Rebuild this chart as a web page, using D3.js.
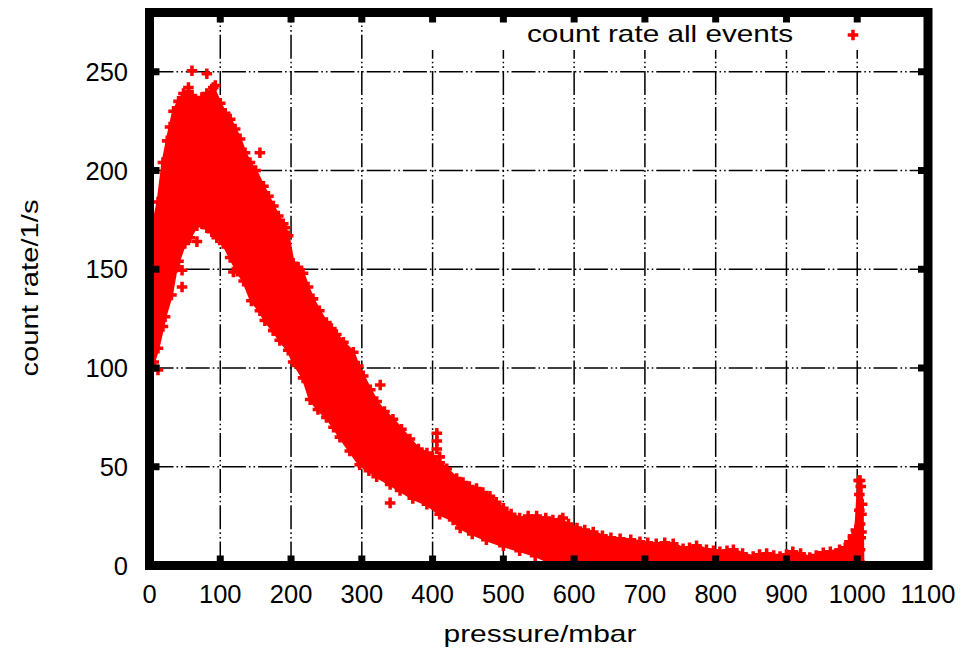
<!DOCTYPE html>
<html><head><meta charset="utf-8">
<script src="https://cdn.jsdelivr.net/npm/d3@7/dist/d3.min.js"></script>
<style>
body{margin:0;background:#fff;}
text{font-family:"Liberation Sans",Arial,Helvetica,sans-serif;fill:#000;}
</style>
</head><body>
<svg id="chart" width="980" height="652"></svg>
<script>
// ---------- data ----------
const xTicks = [0,100,200,300,400,500,600,700,800,900,1000,1100];
const yTicks = [0,50,100,150,200,250];
const seriesName = "count rate all events";
const xTitle = "pressure/mbar";
const yTitle = "count rate/1/s";

// upper edge of the dense cloud of points (pressure / mbar, count rate / 1/s)
const upperPressure = [2,5,12,19,25,29,34,41,48,55,60,67,74,81,90,100,107,114,121,128,135,142,150,161,168,175,182,189,196,203,210,217,224,231,240,250,257,264,274,288,295,302,312,321,332,344,356,368,380,392,400,410,420,434,443,452,462,471,481,490,500,511,523,535,547,560,570,580,592,604,615,627,640,652,665,680,693,704,716,728,740,754,763,773,787,797,806,816,825,838,853,862,872,882,891,900,909,920,933,942,952,962,975,983,989,994,998,1002,1004,1005,1007,1008];
const upperRate = [170,172,184,204,215,222,230,235,239,240,238,235,237,239,242,234,229,226,221,216,209,204,200,192,187,182,177,173,167,153,151,148,141,135,129,123,120,117,113,108,101,96,89,83,78,74,69,64,59,57,55,52,49,44,42,40,39,37,35,32,29,26,24,25,25,24,23,23,21,19,18,17,15,14,13.5,13,12,11.5,11,11.5,11,8.5,9,10,8,7.5,7,7.5,8,6,4.5,5.5,6,5,4.5,5.5,7,6,4,5,6.5,7,8,9,12,15,18,43,43,40,31,0];
// lower edge of the cloud
const lowerPressure = [2,6,12,19,22,31,38,41,50,57,67,74,81,88,95,104,114,124,133,144,156,163,175,184,196,203,217,227,238,250,260,269,283,297,310,321,340,354,372,392,410,429,439,456,476,500,523,545,570,620,700,800,900,1000,1008];
const lowerRate = [102,103,110,121,126,137,151,154,163,166,172,173,171,169,166,163,156,149,144,134,129,124,119,114,109,103,95,84,79,75,70,65,58,51,48,45,41,38,34,31,26,23,19,16,13,10,7.5,5,1,0,0,0,0,0,0];
// isolated points standing out of the cloud, and points filling the spike near 1000 mbar
const outPressure = [12,46,46,60,81,67,118.5,156,191.5,175,326,340,406,406,406,410,584,55,93,1003,1003,1004,1005,1004,1006,1006];
const outRate =     [99,149.5,141,250.5,249,164,148.6,209,171,119,91.4,31.7,67,63,59,55,24,242,243,36,28,21,14,8,26,17];

// ---------- drawing ----------
const svg = d3.select("#chart");
const x = d3.scaleLinear().domain([0,1100]).range([149.5,928]);
const y = d3.scaleLinear().domain([0,280]).range([565.5,12.5]);
const red = "#ff0000";
const cross = d3.symbol().type(d3.symbolCross).size(62);

svg.append("defs").append("clipPath").attr("id","plot")
  .append("rect").attr("x",x(0)).attr("y",y(280)).attr("width",x(1100)-x(0)).attr("height",y(0)-y(280));

// grid
const dash = "24,3,1.6,3,1.6,3";
const grid = svg.append("g").attr("stroke","#000").attr("stroke-width",1.5).attr("stroke-dasharray",dash);
grid.selectAll(".gx").data(xTicks.filter(d=>d>0&&d<1100)).join("line")
  .attr("x1",d=>x(d)).attr("x2",d=>x(d)).attr("y1",y(0)).attr("y2",y(280));
grid.selectAll(".gy").data(yTicks.filter(d=>d>0)).join("line")
  .attr("y1",d=>y(d)).attr("y2",d=>y(d)).attr("x1",x(0)).attr("x2",x(1100));

// key area is cleared of grid lines
svg.append("rect").attr("x",405).attr("y",y(280)).attr("width",x(1100)-405).attr("height",50-y(280)).attr("fill","#fff");

// data
const dataG = svg.append("g").attr("clip-path","url(#plot)");
const upperPts = upperPressure.map((p,i)=>[p,upperRate[i]]);
const lowerPts = lowerPressure.map((p,i)=>[p,lowerRate[i]]);
const outline = upperPts.concat(lowerPts.slice().reverse());
dataG.append("path")
  .attr("d", d3.line().x(d=>x(d[0])).y(d=>y(d[1]))(outline) + "Z")
  .attr("fill",red).attr("stroke",red).attr("stroke-width",3);
const allPts = upperPts.concat(lowerPts, outPressure.map((p,i)=>[p,outRate[i]]));
dataG.selectAll(".pt").data(allPts).join("path")
  .attr("d",cross)
  .attr("transform",d=>`translate(${x(d[0])},${y(d[1])})`)
  .attr("fill",red);

// border
svg.append("rect").attr("x",x(0)).attr("y",y(280)).attr("width",x(1100)-x(0)).attr("height",y(0)-y(280))
  .attr("fill","none").attr("stroke","#000").attr("stroke-width",9);

// ticks (mirrored on all four sides)
const tk = svg.append("g").attr("stroke","#000").attr("stroke-width",7);
tk.selectAll(".tb").data(xTicks).join("line")
  .attr("x1",d=>x(d)).attr("x2",d=>x(d)).attr("y1",y(0)).attr("y2",y(0)-10);
tk.selectAll(".tt").data(xTicks).join("line")
  .attr("x1",d=>x(d)).attr("x2",d=>x(d)).attr("y1",y(280)).attr("y2",y(280)+10);
tk.selectAll(".tl").data(yTicks).join("line")
  .attr("y1",d=>y(d)).attr("y2",d=>y(d)).attr("x1",x(0)).attr("x2",x(0)+10);
tk.selectAll(".tr").data(yTicks).join("line")
  .attr("y1",d=>y(d)).attr("y2",d=>y(d)).attr("x1",x(1100)).attr("x2",x(1100)-10);

// tick labels
svg.append("g").selectAll("text").data(xTicks).join("text")
  .attr("x",d=>x(d)).attr("y",603).attr("text-anchor","middle")
  .attr("font-size",25.5).text(d=>d);
svg.append("g").selectAll("text").data(yTicks).join("text")
  .attr("x",128).attr("y",d=>y(d)+9).attr("text-anchor","end")
  .attr("font-size",25.5).text(d=>d);

// axis titles
svg.append("text").attr("x",540).attr("y",641.5).attr("text-anchor","middle")
  .attr("font-size",24).attr("textLength",193).attr("lengthAdjust","spacingAndGlyphs").text(xTitle);
svg.append("text").attr("transform","translate(37.5,288) rotate(-90)").attr("text-anchor","middle")
  .attr("font-size",24).attr("textLength",177).attr("lengthAdjust","spacingAndGlyphs").text(yTitle);

// key
svg.append("text").attr("x",793).attr("y",42).attr("text-anchor","end")
  .attr("font-size",24).attr("textLength",266).attr("lengthAdjust","spacingAndGlyphs").text(seriesName);
svg.append("path").attr("d",cross).attr("transform","translate(853,35)").attr("fill",red);
</script>
</body></html>
